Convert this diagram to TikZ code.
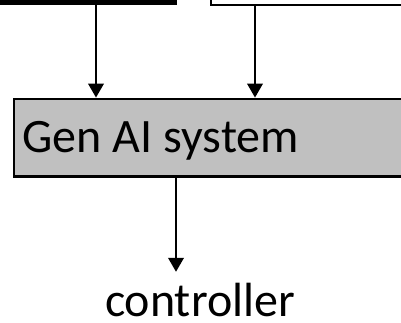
\documentclass[tikz,border=0pt]{standalone}
\usepackage{fontspec}
\setmainfont{Carlito}
\usetikzlibrary{arrows.meta}
\definecolor{boxgray}{RGB}{192,192,192}
\tikzset{
  arr/.style={draw=black, line width=2.2pt, -{Triangle[width=15.5pt,length=14pt]}},
  blackbox/.style={rectangle, fill=black, draw=none, inner sep=0pt},
  whitebox/.style={rectangle, fill=white, draw=black, line width=2pt, inner sep=0pt},
  genbox/.style={rectangle, fill=boxgray, draw=black, line width=2.8pt, inner sep=0pt},
  lbl/.style={font=\fontsize{48}{58}\selectfont, inner sep=0pt, text depth=0pt},
}
\begin{document}
\begin{tikzpicture}[x=1pt,y=1pt]
\useasboundingbox (0,0) rectangle (401,323);
\clip (0,0) rectangle (401,323);
\node[blackbox, minimum width=187pt, minimum height=25pt] (blk) at (83.5,330.5) {};
\node[whitebox, minimum width=209pt, minimum height=25pt] (wht) at (315.5,330.5) {};
\node[genbox, minimum width=416pt, minimum height=77.5pt] (gen) at (222,185.25) {};
\node[lbl, anchor=base west] (genlbl) at (22.5,170) {Gen AI system};
\node[lbl, anchor=base, text height=36pt, inner ysep=9pt] (ctrl) at (200,6) {controller};
\coordinate (x1) at (96,0);
\coordinate (x2) at (255,0);
\coordinate (x3) at (176,0);
\draw[arr] (blk.south -| x1) -- (gen.north -| x1);
\draw[arr] (wht.south -| x2) -- (gen.north -| x2);
\draw[arr] (gen.south -| x3) -- (ctrl.north -| x3);
\end{tikzpicture}
\end{document}
